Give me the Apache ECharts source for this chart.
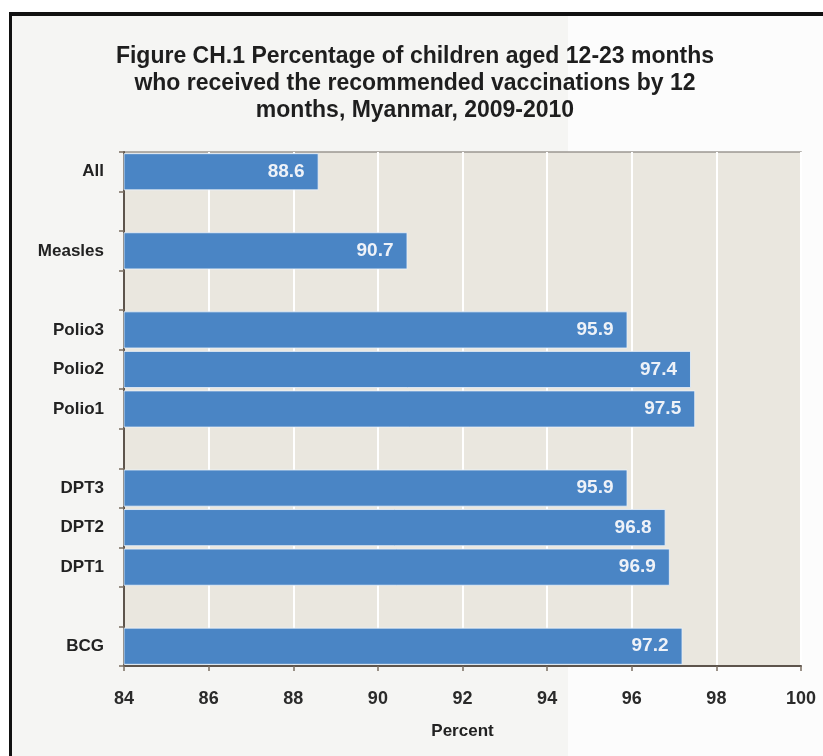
<!DOCTYPE html>
<html>
<head>
<meta charset="utf-8">
<script src="https://cdn.jsdelivr.net/npm/echarts@6/dist/echarts.min.js"></script>
<style>
  html, body { margin: 0; padding: 0; background: #ffffff; }
  #chart { width: 823px; height: 756px; }
</style>
</head>
<body>
<div id="chart"></div>
<script>
// Categories listed bottom-to-top (category axis runs upward); blank rows are spacers
var categories = ['BCG', ' ', 'DPT1', 'DPT2', 'DPT3', '  ', 'Polio1', 'Polio2', 'Polio3', '   ', 'Measles', '    ', 'All'];
var values = [97.2, null, 96.9, 96.8, 95.9, null, 97.5, 97.4, 95.9, null, 90.7, null, 88.6];
var xTicks = { min: 84, max: 100, interval: 2 };
var titleLines = [
  'Figure CH.1 Percentage of children aged 12-23 months',
  'who received the recommended vaccinations by 12',
  'months, Myanmar, 2009-2010'
];
var xAxisName = 'Percent';

var FONT = '"Liberation Sans", Arial, sans-serif';
var chart = echarts.init(document.getElementById('chart'), null, { renderer: 'canvas' });

chart.setOption({
  backgroundColor: '#ffffff',
  animation: false,
  graphic: [
    { type: 'rect', z: -10, silent: true, shape: { x: 9, y: 12, width: 814, height: 744 }, style: { fill: '#f5f5f3' } },
    { type: 'rect', z: -9, silent: true, shape: { x: 568, y: 16, width: 255, height: 740 }, style: { fill: '#fcfcfc' } },
    { type: 'rect', z: 100, silent: true, shape: { x: 9, y: 12, width: 814, height: 4 }, style: { fill: '#111111' } },
    { type: 'rect', z: 100, silent: true, shape: { x: 9, y: 12, width: 3, height: 744 }, style: { fill: '#111111' } }
  ],
  title: {
    text: titleLines.join('\n'),
    left: 410,
    top: 38,
    textAlign: 'center',
    textStyle: {
      fontFamily: FONT,
      fontSize: 23,
      fontWeight: 'bold',
      color: '#1e1e1e',
      lineHeight: 27
    }
  },
  grid: {
    left: 124,
    right: 22,
    top: 152,
    bottom: 90,
    show: true,
    backgroundColor: '#eae7df',
    borderColor: '#9c9892',
    borderWidth: 1.5
  },
  xAxis: {
    type: 'value',
    min: xTicks.min,
    max: xTicks.max,
    interval: xTicks.interval,
    name: xAxisName,
    nameLocation: 'middle',
    nameGap: 57,
    nameTextStyle: { fontFamily: FONT, fontSize: 17, fontWeight: 'bold', color: '#222' },
    axisLine: { show: true, lineStyle: { color: '#5d544c', width: 2 } },
    axisTick: { show: true, length: 5, lineStyle: { color: '#7a6e62', width: 1.5 } },
    axisLabel: { fontFamily: FONT, fontSize: 18, fontWeight: 'bold', color: '#2a2a2a', margin: 24 },
    splitLine: { show: true, lineStyle: { color: '#ffffff', width: 2 } }
  },
  yAxis: {
    type: 'category',
    data: categories,
    axisLine: { show: true, lineStyle: { color: '#5d544c', width: 2 } },
    axisTick: { show: true, length: 5, inside: false, lineStyle: { color: '#7a6e62', width: 1.5 } },
    axisLabel: { fontFamily: FONT, fontSize: 17, fontWeight: 'bold', color: '#222', margin: 20 },
    splitLine: { show: false }
  },
  series: [{
    type: 'bar',
    data: values,
    barCategoryGap: '6%',
    itemStyle: { color: '#4a85c5', borderColor: 'rgba(235,242,250,0.8)', borderWidth: 1 },
    label: {
      show: true,
      position: 'insideRight',
      distance: 14,
      fontFamily: FONT,
      fontSize: 19,
      fontWeight: 'bold',
      color: '#eef2f8',
      formatter: function (p) { return p.value == null ? '' : p.value.toFixed(1); }
    }
  }]
});
</script>
</body>
</html>
